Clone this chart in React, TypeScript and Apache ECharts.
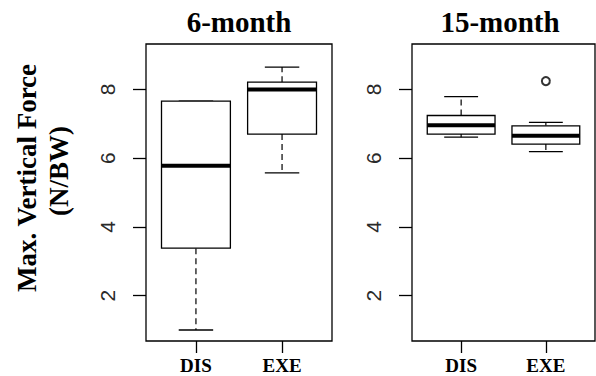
import React, { useEffect, useRef } from "react";
import * as echarts from "echarts";

// ---- data ----
const categories = ["DIS", "EXE"];
const panelTitles = ["6-month", "15-month"];
// [lower whisker, Q1, median, Q3, upper whisker]
const sixMonthDIS = [1.0, 3.38, 5.78, 7.66, 7.66];
const sixMonthEXE = [5.57, 6.7, 8.0, 8.21, 8.65];
const fifteenMonthDIS = [6.61, 6.7, 6.96, 7.24, 7.79];
const fifteenMonthEXE = [6.19, 6.41, 6.65, 6.94, 7.04];
// outliers: [category position, value]
const sixMonthOutliers: number[][] = [];
const fifteenMonthOutliers = [[2, 8.24]];
const yTicks = [2, 4, 6, 8];
const xTicks = [1, 2];
const yTitle = ["Max. Vertical Force", "(N/BW)"];

const BOX_WIDTH = 0.8;
const STAPLE_WIDTH = 0.4;
const SERIF = "'Liberation Serif', 'Times New Roman', serif";
const SANS = "'Liberation Sans', Arial, sans-serif";

function boxData(groups: number[][]) {
  return groups.map((g, i) => [i + 1, ...g]);
}

function renderBox(params: any, api: any) {
  const x = api.value(0);
  const lo = api.coord([x, api.value(1)]);
  const q1 = api.coord([x, api.value(2)]);
  const med = api.coord([x, api.value(3)]);
  const q3 = api.coord([x, api.value(4)]);
  const hi = api.coord([x, api.value(5)]);
  const cx = lo[0];
  const hb = api.size([BOX_WIDTH, 0])[0] / 2;
  const hs = api.size([STAPLE_WIDTH, 0])[0] / 2;
  const dash = { stroke: "#000", lineWidth: 1.2, lineDash: [6, 4] };
  const solid = { stroke: "#000", lineWidth: 1.3 };
  return {
    type: "group",
    children: [
      { type: "line", shape: { x1: cx, y1: q3[1], x2: cx, y2: hi[1] }, style: dash },
      { type: "line", shape: { x1: cx, y1: q1[1], x2: cx, y2: lo[1] }, style: dash },
      { type: "line", shape: { x1: cx - hs, y1: hi[1], x2: cx + hs, y2: hi[1] }, style: solid },
      { type: "line", shape: { x1: cx - hs, y1: lo[1], x2: cx + hs, y2: lo[1] }, style: solid },
      {
        type: "rect",
        shape: { x: cx - hb, y: q3[1], width: 2 * hb, height: q1[1] - q3[1] },
        style: { fill: "#fff", stroke: "#000", lineWidth: 1.3 },
      },
      {
        type: "line",
        shape: { x1: cx - hb, y1: med[1], x2: cx + hb, y2: med[1] },
        style: { stroke: "#000", lineWidth: 4 },
      },
    ],
  };
}

export default function App() {
  const ref = useRef<HTMLDivElement>(null);
  useEffect(() => {
    if (!ref.current) return;
    const chart = echarts.init(ref.current, null, { renderer: "svg" });
    const grids = [
      { left: 146, top: 44, width: 186, height: 297 },
      { left: 412, top: 44, width: 183, height: 297 },
    ];
    const xAxes = grids.map((_, i) => ({
      type: "value",
      gridIndex: i,
      min: 0.42,
      max: 2.58,
      axisLine: { show: false },
      splitLine: { show: false },
      axisTick: { show: true, customValues: xTicks, length: 12, lineStyle: { color: "#000", width: 1.3 } },
      axisLabel: {
        customValues: xTicks,
        formatter: (v: number) => categories[Math.round(v) - 1],
        fontFamily: SERIF,
        fontWeight: "bold",
        fontSize: 19,
        color: "#000",
        margin: 15,
      },
    }));
    const yAxes = grids.map((_, i) => ({
      type: "value",
      gridIndex: i,
      min: 0.68,
      max: 9.32,
      axisLine: { show: false },
      splitLine: { show: false },
      axisTick: { show: true, customValues: yTicks, length: 13, lineStyle: { color: "#000", width: 1.3 } },
      axisLabel: {
        customValues: yTicks,
        rotate: 90,
        fontFamily: SANS,
        fontSize: 21,
        color: "#2a2a2a",
        margin: 28,
      },
    }));
    chart.setOption({
      animation: false,
      backgroundColor: "#fff",
      grid: grids.map((g) => ({ ...g, show: true, borderColor: "#000", borderWidth: 1.3, backgroundColor: "transparent" })),
      xAxis: xAxes,
      yAxis: yAxes,
      graphic: [
        {
          type: "text",
          x: 239,
          y: 22,
          style: { text: panelTitles[0], font: `bold 29px ${SERIF}`, fill: "#000", textAlign: "center", textVerticalAlign: "middle" },
        },
        {
          type: "text",
          x: 500,
          y: 22,
          style: { text: panelTitles[1], font: `bold 29px ${SERIF}`, fill: "#000", textAlign: "center", textVerticalAlign: "middle" },
        },
        {
          type: "text",
          x: 27,
          y: 178,
          rotation: Math.PI / 2,
          style: { text: yTitle[0], font: `bold 27px ${SERIF}`, fill: "#000", textAlign: "center", textVerticalAlign: "middle" },
        },
        {
          type: "text",
          x: 59,
          y: 171,
          rotation: Math.PI / 2,
          style: { text: yTitle[1], font: `bold 27px ${SERIF}`, fill: "#000", textAlign: "center", textVerticalAlign: "middle" },
        },
      ],
      series: [
        {
          type: "custom",
          xAxisIndex: 0,
          yAxisIndex: 0,
          renderItem: renderBox,
          encode: { x: 0, y: [1, 2, 3, 4, 5] },
          data: boxData([sixMonthDIS, sixMonthEXE]),
        },
        {
          type: "custom",
          xAxisIndex: 1,
          yAxisIndex: 1,
          renderItem: renderBox,
          encode: { x: 0, y: [1, 2, 3, 4, 5] },
          data: boxData([fifteenMonthDIS, fifteenMonthEXE]),
        },
        {
          type: "scatter",
          xAxisIndex: 0,
          yAxisIndex: 0,
          symbol: "emptyCircle",
          symbolSize: 8,
          itemStyle: { color: "#000", borderColor: "#000", borderWidth: 1.2 },
          data: sixMonthOutliers,
        },
        {
          type: "scatter",
          xAxisIndex: 1,
          yAxisIndex: 1,
          symbol: "emptyCircle",
          symbolSize: 8,
          itemStyle: { color: "#000", borderColor: "#000", borderWidth: 1.2 },
          data: fifteenMonthOutliers,
        },
      ],
    });
    return () => chart.dispose();
  }, []);
  return <div ref={ref} style={{ position: "fixed", left: 0, top: 0, width: 596, height: 376 }} />;
}
